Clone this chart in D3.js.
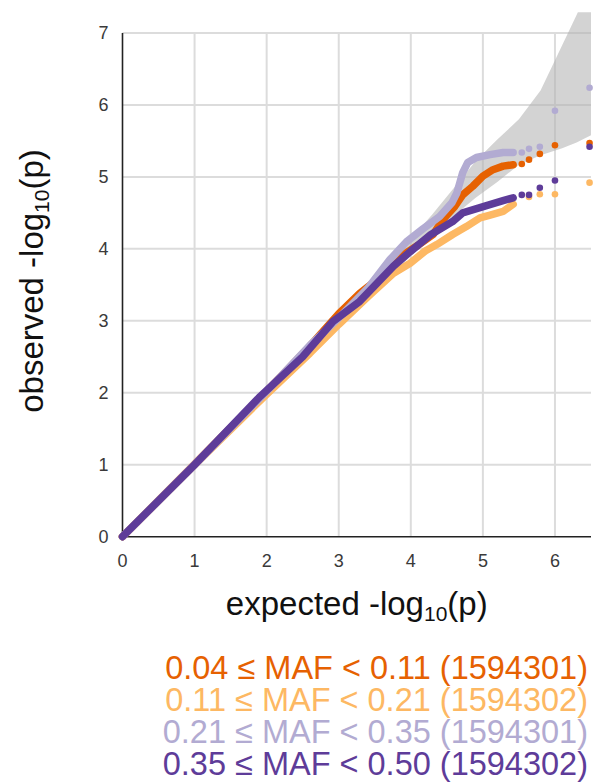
<!DOCTYPE html>
<html>
<head>
<meta charset="utf-8">
<script src="https://cdn.jsdelivr.net/npm/d3@7"></script>
<style>
    body { margin: 0; background: #fff; }
    text { font-family: "Liberation Sans", Arial, Helvetica, sans-serif; }
</style>
</head>
<body>
<div class="chart_qq"></div>
<script>
// Tick values
var xTickValues = [0, 1, 2, 3, 4, 5, 6];
var yTickValues = [0, 1, 2, 3, 4, 5, 6, 7];

// Legend labels and colours (one per MAF bin)
var seriesLabels = [
    "0.04 \u2264 MAF < 0.11 (1594301)",
    "0.11 \u2264 MAF < 0.21 (1594302)",
    "0.21 \u2264 MAF < 0.35 (1594301)",
    "0.35 \u2264 MAF < 0.50 (1594302)"
];
var seriesColors = ["#e66101", "#fdb863", "#b2abd2", "#5e3c99"];

// 95% confidence band: expected, lower, upper
var bandExpected = [0, 1, 2, 3, 3.5, 4, 4.3, 4.6, 4.9, 5.2, 5.5, 5.8, 6.1, 6.3, 6.5];
var bandLower = [0, 0.99, 1.97, 2.95, 3.43, 3.9, 4.18, 4.46, 4.71, 4.93, 5.17, 5.3, 5.4, 5.48, 5.58];
var bandUpper = [0, 1.02, 2.04, 3.07, 3.6, 4.14, 4.48, 4.85, 5.22, 5.52, 5.8, 6.2, 6.83, 7.25, 7.7];

// [expected, observed] - dense part of each bin
var orangeDense = [[0, 0], [1, 1.01], [2, 2.02], [2.6, 2.65], [3.0, 3.1], [3.29, 3.38], [3.53, 3.57], [3.85, 3.89],
    [4.1, 4.05], [4.31, 4.2], [4.44, 4.4], [4.61, 4.59], [4.72, 4.75], [4.86, 4.87], [5.0, 5.01], [5.14, 5.1],
    [5.28, 5.15], [5.42, 5.17]];
var lightOrangeDense = [[0, 0], [1, 1.0], [2, 1.98], [2.6, 2.55], [3.0, 2.95], [3.4, 3.33], [3.76, 3.66], [3.99, 3.8],
    [4.2, 3.97], [4.36, 4.06], [4.58, 4.2], [4.77, 4.31], [4.96, 4.43], [5.1, 4.47], [5.28, 4.52], [5.42, 4.62]];
var lightPurpleDense = [[0, 0], [1, 1.0], [2, 2.02], [2.6, 2.66], [3.0, 3.04], [3.4, 3.45], [3.71, 3.85], [3.94, 4.1],
    [4.17, 4.28], [4.4, 4.45], [4.57, 4.64], [4.64, 4.78], [4.68, 4.92], [4.72, 5.06], [4.79, 5.2], [4.91, 5.27],
    [5.1, 5.31], [5.28, 5.34], [5.42, 5.34]];
var darkPurpleDense = [[0, 0], [1, 1.0], [1.91, 1.95], [2.5, 2.5], [2.92, 2.99], [3.29, 3.27], [3.76, 3.76], [3.99, 3.96],
    [4.28, 4.2], [4.58, 4.38], [4.72, 4.5], [5.05, 4.6], [5.28, 4.67], [5.42, 4.71]];

// [expected, observed] - sparse top hits
var orangeTail = [[5.54, 5.18], [5.64, 5.24], [5.79, 5.32], [6.0, 5.44], [6.48, 5.47]];
var lightOrangeTail = [[5.64, 4.72], [5.79, 4.76], [6.0, 4.76], [6.48, 4.92]];
var lightPurpleTail = [[5.54, 5.34], [5.64, 5.39], [5.79, 5.42], [6.0, 5.92], [6.48, 6.24]];
var darkPurpleTail = [[5.54, 4.75], [5.64, 4.75], [5.79, 4.85], [6.0, 4.95], [6.48, 5.42]];

var denseSets = [orangeDense, lightOrangeDense, lightPurpleDense, darkPurpleDense];
var tailSets = [orangeTail, lightOrangeTail, lightPurpleTail, darkPurpleTail];

var svgWidth = 594;
var svgHeight = 782;
var margin = { top: 33, left: 122.5 };
var width = 468.5;
var height = 503.7;

var svg = d3.select(".chart_qq")
    .append("svg")
    .attr("width", svgWidth)
    .attr("height", svgHeight);

var chart = svg.append("g")
    .attr("transform", "translate(" + margin.left + "," + margin.top + ")");

var xScale = d3.scaleLinear().domain([0, 6.5]).range([0, width]);
var yScale = d3.scaleLinear().domain([0, 7]).range([height, 0]);

// clip for the band (it is cut a little above the 7 line)
svg.append("defs").append("clipPath")
    .attr("id", "bandClip")
    .append("rect")
    .attr("x", 0)
    .attr("y", yScale(7.29))
    .attr("width", width)
    .attr("height", height - yScale(7.29));

// grid lines
chart.selectAll(".hgrid")
    .data(yTickValues.filter(function (d) { return d > 0; }))
    .enter()
    .append("line")
    .attr("x1", 0)
    .attr("x2", width)
    .attr("y1", function (d) { return yScale(d); })
    .attr("y2", function (d) { return yScale(d); })
    .attr("stroke", "#dcdcdc")
    .attr("stroke-width", 2);

chart.selectAll(".vgrid")
    .data(xTickValues.filter(function (d) { return d > 0; }))
    .enter()
    .append("line")
    .attr("x1", function (d) { return xScale(d); })
    .attr("x2", function (d) { return xScale(d); })
    .attr("y1", 0)
    .attr("y2", height)
    .attr("stroke", "#dcdcdc")
    .attr("stroke-width", 2);

// confidence band
var bandData = bandExpected.map(function (e, i) {
    return { e: e, lo: bandLower[i], hi: bandUpper[i] };
});
var band = d3.area()
    .x(function (d) { return xScale(d.e); })
    .y0(function (d) { return yScale(d.lo); })
    .y1(function (d) { return yScale(d.hi); });

chart.append("path")
    .datum(bandData)
    .attr("clip-path", "url(#bandClip)")
    .attr("d", band)
    .attr("fill", "#b4b4b4")
    .attr("fill-opacity", 0.58);

// axes lines
chart.append("line")
    .attr("x1", 0).attr("x2", 0)
    .attr("y1", yScale(7)).attr("y2", height)
    .attr("stroke", "#222").attr("stroke-width", 1.6);
chart.append("line")
    .attr("x1", 0).attr("x2", width)
    .attr("y1", height).attr("y2", height)
    .attr("stroke", "#222").attr("stroke-width", 1.6);

// the dense part drawn as a thick line of points
var qqLine = d3.line()
    .x(function (d) { return xScale(d[0]); })
    .y(function (d) { return yScale(d[1]); });

denseSets.forEach(function (set, i) {
    chart.append("path")
        .datum(set)
        .attr("d", qqLine)
        .attr("fill", "none")
        .attr("stroke", seriesColors[i])
        .attr("stroke-width", 7.5)
        .attr("stroke-linecap", "round")
        .attr("stroke-linejoin", "round");
});

tailSets.forEach(function (set, i) {
    chart.selectAll(".tail" + i)
        .data(set)
        .enter()
        .append("circle")
        .attr("cx", function (d) { return xScale(d[0]); })
        .attr("cy", function (d) { return yScale(d[1]); })
        .attr("r", 3.3)
        .attr("fill", seriesColors[i]);
});

// tick labels
chart.selectAll(".ylabel")
    .data(yTickValues)
    .enter()
    .append("text")
    .attr("x", -14)
    .attr("y", function (d) { return yScale(d); })
    .attr("dy", "0.35em")
    .attr("text-anchor", "end")
    .style("font-size", "18px")
    .style("fill", "#3a3a3a")
    .text(function (d) { return d; });

chart.selectAll(".xlabel")
    .data(xTickValues)
    .enter()
    .append("text")
    .attr("x", function (d) { return xScale(d); })
    .attr("y", height + 30)
    .attr("text-anchor", "middle")
    .style("font-size", "18px")
    .style("fill", "#3a3a3a")
    .text(function (d) { return d; });

// axis titles
var xTitle = chart.append("text")
    .attr("x", width / 2)
    .attr("y", height + 78)
    .attr("text-anchor", "middle")
    .style("font-size", "33px")
    .style("fill", "#111");
xTitle.append("tspan").text("expected -log");
xTitle.append("tspan").attr("dy", 6).style("font-size", "21px").text("10");
xTitle.append("tspan").attr("dy", -6).text("(p)");

var yTitle = svg.append("text")
    .attr("transform", "translate(43," + 281 + ") rotate(-90)")
    .attr("text-anchor", "middle")
    .style("font-size", "33px")
    .style("fill", "#111");
yTitle.append("tspan").text("observed -log");
yTitle.append("tspan").attr("dy", 6).style("font-size", "21px").text("10");
yTitle.append("tspan").attr("dy", -6).text("(p)");

// legend
svg.selectAll(".legend")
    .data(seriesLabels)
    .enter()
    .append("text")
    .attr("x", 588)
    .attr("y", function (d, i) { return 679 + i * 32; })
    .attr("text-anchor", "end")
    .style("font-size", "32.5px")
    .style("fill", function (d, i) { return seriesColors[i]; })
    .text(function (d) { return d; });
</script>
</body>
</html>
